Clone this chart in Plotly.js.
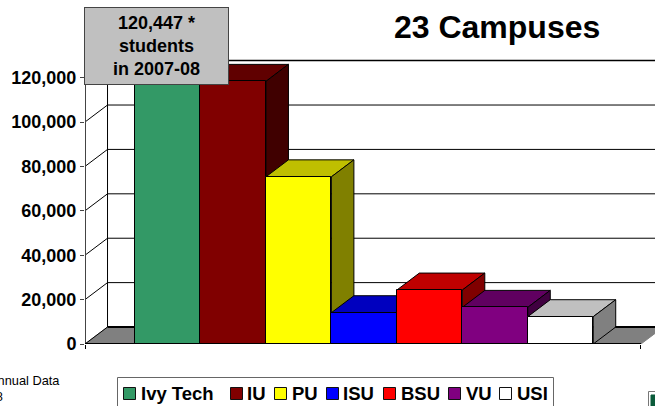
<!DOCTYPE html>
<html>
<head>
<meta charset="utf-8">
<script src="https://cdn.plot.ly/plotly-3.0.1.min.js"></script>
<style>html,body{margin:0;padding:0;background:#fff;overflow:hidden}</style>
</head>
<body>
<div id="chart" style="width:655px;height:406px"></div>
<script>
// ---- data ----
const schools = ["Ivy Tech", "IU", "PU", "ISU", "BSU", "VU", "USI"];
const students = [120447, 118300, 75300, 14100, 24300, 16500, 12300];
const yTicks = [0, 20000, 40000, 60000, 80000, 100000, 120000];

// ---- styles ----
const frontColors = ["#339966", "#800000", "#FFFF00", "#0000FF", "#FF0000", "#800080", "#FFFFFF"];
const topColors   = ["#267350", "#600000", "#BFBF00", "#0000BF", "#BF0000", "#600060", "#C0C0C0"];
const sideColors  = ["#1A4D33", "#400000", "#808000", "#000080", "#800000", "#400040", "#808080"];
const FONT = '"Liberation Sans", Arial, sans-serif';

// ---- 3D frame in axis units ----
const W = 655, H = 406, ML = 85, MB = 62, MT = 0;
const PLOT_H = H - MB - MT, PLOT_W = W - ML;
const xRange = [-1.264, 7.444];
const yRange = [0, 154955];
const depthX = 0.344, depthY = 7650;
const floorRight = 7.23;

const px = p => (p - ML) / PLOT_W;          // paper x from page pixel
const py = p => (H - MB - p) / PLOT_H;      // paper y from page pixel

const traces = [];
function poly(xs, ys, fill, line) {
  traces.push({type:"scatter", mode:"lines", x:xs.concat(xs[0]), y:ys.concat(ys[0]),
    fill:"toself", fillcolor:fill, line:{color:line||"#000", width:1}, hoverinfo:"skip", showlegend:false});
}
function seg(xs, ys, color, width) {
  traces.push({type:"scatter", mode:"lines", x:xs, y:ys, line:{color:color, width:width},
    hoverinfo:"skip", showlegend:false});
}
const xL = xRange[0], xB = xL + depthX;

// floor
poly([xL, xB, floorRight + depthX, floorRight], [0, depthY, depthY, 0], "#808080", "#808080");
seg([xB, xRange[1]], [depthY, depthY], "#000", 2);

// walls: gridlines
yTicks.slice(1).forEach((t, k) => {
  seg([xL, xB], [t, t + depthY], "#000", 1);
  seg([xB, xRange[1]], [t + depthY, t + depthY], "#000", k === yTicks.length - 2 ? 1.5 : 1);
});
seg([xL, xB], [0, depthY], "#000", 1);
seg([xB, xB], [depthY, yTicks[yTicks.length - 1] + depthY], "#000", 1);
seg([xL, xL], [0, yTicks[yTicks.length - 1]], "#444", 2);

// top and side faces of every bar, left to right
schools.forEach((s, i) => {
  const v = students[i], a = i - 0.5, b = i + 0.5;
  poly([a, b, b + depthX, a + depthX], [v, v, v + depthY, v + depthY], topColors[i]);
  poly([b, b + depthX, b + depthX, b], [v, v + depthY, depthY, 0], sideColors[i]);
});

// front faces on an overlay subplot, above every top and side
traces.push({type:"bar", x:schools.map((s, i) => i), y:students, width:1, xaxis:"x2", yaxis:"y2",
  text:schools, textposition:"none", hovertemplate:"%{text}: %{y:,}<extra></extra>",
  marker:{color:frontColors, line:{color:"#000", width:1}}, showlegend:false});
// baseline
traces.push({type:"scatter", mode:"lines", x:[xL, floorRight], y:[0, 0], xaxis:"x2", yaxis:"y2",
  line:{color:"#000", width:2}, hoverinfo:"skip", showlegend:false});

// ---- hand drawn legend, as in the original slide ----
const legSwatch = [123, 230, 274, 326, 383, 448, 499];
const legText   = [141, 247, 292, 343, 401, 466, 517];
const shapes = [];
const annotations = [];
function pxRect(x0, y0, x1, y1, fill, line) {
  shapes.push({type:"rect", xref:"paper", yref:"paper", x0:px(x0), x1:px(x1), y0:py(y0), y1:py(y1),
    fillcolor:fill, line:{color:line, width:1}});
}
pxRect(117.5, 377.5, 553.5, 412, "#FFFFFF", "#666666");
schools.forEach((s, i) => {
  pxRect(legSwatch[i] + .5, 387.5, legSwatch[i] + 12.5, 399.5, frontColors[i], "#111111");
  annotations.push({xref:"paper", yref:"paper", x:px(legText[i]), y:py(393), xanchor:"left", yanchor:"middle",
    showarrow:false, text:"<b>" + s + "</b>", font:{family:FONT, size:18.5, color:"#000"}, borderpad:0, borderwidth:0});
});

// icon clipped at the page corner
pxRect(648.5, 391.5, 662, 412, "#FFFFFF", "#777777");
pxRect(651, 395, 662, 412, "#0B5B3A", "#0B5B3A");

// callout
annotations.push({xref:"paper", yref:"paper", x:px(156), y:py(45.5), xanchor:"center", yanchor:"middle",
  showarrow:false, width:143, height:76, align:"center", valign:"middle",
  bgcolor:"#C0C0C0", bordercolor:"#444444", borderwidth:1, borderpad:0,
  text:"<b>120,447 *<br>students<br>in 2007-08</b>", font:{family:FONT, size:18, color:"#000"}});

// source note, cut by the page edge as in the reference
annotations.push({xref:"paper", yref:"paper", x:px(60.5), y:py(380), xanchor:"right", yanchor:"middle",
  showarrow:false, text:"Annual Data", font:{family:FONT, size:12.8, color:"#000"}, borderpad:0});
annotations.push({xref:"paper", yref:"paper", x:px(3.5), y:py(396), xanchor:"right", yanchor:"middle",
  showarrow:false, text:"2007-08", font:{family:FONT, size:12.8, color:"#000"}, borderpad:0});

const layout = {
  width:W, height:H, margin:{l:ML, r:0, t:MT, b:MB, pad:0},
  paper_bgcolor:"#fff", plot_bgcolor:"#fff", showlegend:false, bargap:0,
  title:{text:"<b>23 Campuses</b>", x:0.759, y:0.933, xanchor:"center", yanchor:"middle", xref:"container", yref:"container",
    font:{family:FONT, size:32, color:"#000"}},
  xaxis:{range:xRange, showgrid:false, zeroline:false, showline:false, showticklabels:false,
    tickmode:"array", tickvals:[xL + 0.005, floorRight], ticks:"outside", ticklen:4, tickcolor:"#000", tickwidth:1},
  yaxis:{range:yRange, showgrid:false, zeroline:false, showline:false, tickmode:"array", tickvals:yTicks,
    tickformat:",", ticks:"outside", ticklen:4, tickcolor:"#444", tickwidth:1,
    tickfont:{family:FONT, size:18, color:"#000", weight:700}},
  xaxis2:{overlaying:"x", matches:"x", visible:false},
  yaxis2:{overlaying:"y", matches:"y", visible:false},
  shapes:shapes, annotations:annotations
};
Plotly.newPlot("chart", traces, layout, {displayModeBar:false, responsive:false});
</script>
</body>
</html>
